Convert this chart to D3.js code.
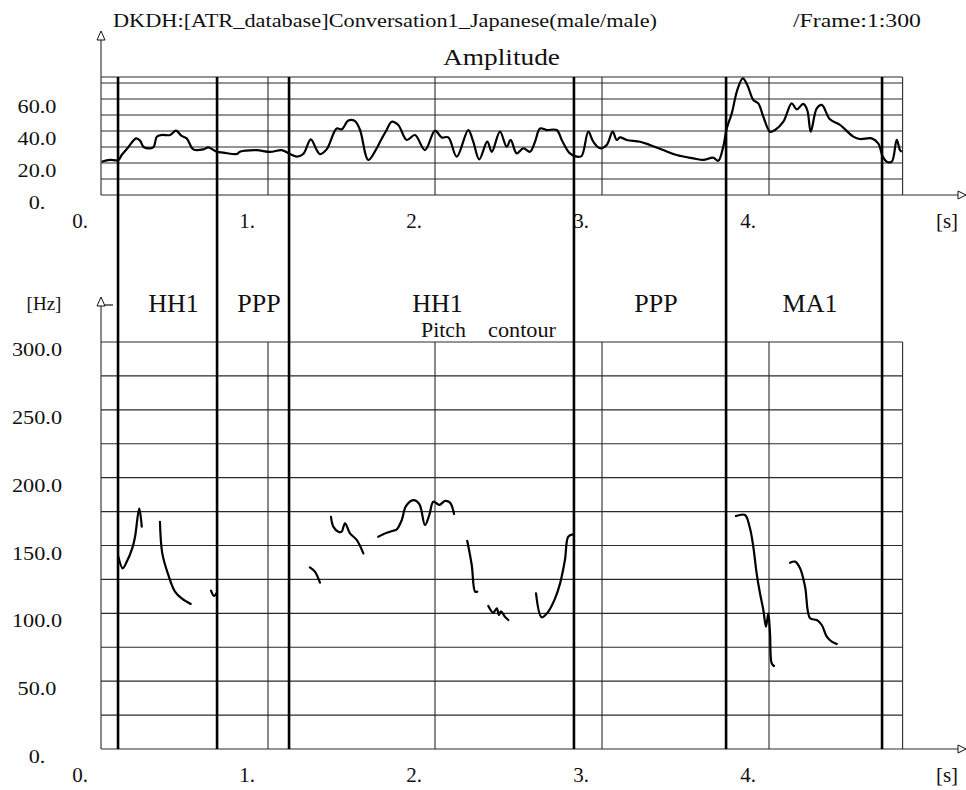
<!DOCTYPE html>
<html>
<head>
<meta charset="utf-8">
<script src="https://cdn.jsdelivr.net/npm/d3@7"></script>
<style>
  body { margin: 0; background: #fff; }
  text { font-family: "Liberation Serif", "Times New Roman", serif; fill: #111; }
</style>
</head>
<body>
<div id="chart"></div>
<script>
/* * * * * * * * * * * * * *
*   amplitude + pitch plot  *
* * * * * * * * * * * * * */

// time axis (seconds)
const timeTicks = [0, 1, 2, 3, 4];
const ampTicks = [0, 20, 40, 60];
const pitchTicks = [0, 50, 100, 150, 200, 250, 300];

// segment boundaries (s) and labels between them
const boundaryTimes = [0.102, 0.695, 1.126, 2.832, 3.743, 4.677];
const segmentLabels = ["HH1", "PPP", "HH1", "PPP", "MA1"];

// amplitude curve
const ampTime = [0.004, 0.054, 0.104, 0.124, 0.163, 0.210, 0.234, 0.257, 0.313, 0.334, 0.363, 0.413, 0.449, 0.483,
    0.513, 0.553, 0.613, 0.643, 0.693, 0.732, 0.813, 0.832, 0.932, 1.012, 1.082, 1.132, 1.172, 1.211, 1.256, 1.292,
    1.311, 1.351, 1.411, 1.441, 1.481, 1.521, 1.551, 1.601, 1.651, 1.671, 1.707, 1.741, 1.780, 1.831, 1.880, 1.940,
    2.000, 2.040, 2.080, 2.130, 2.199, 2.229, 2.265, 2.313, 2.340, 2.389, 2.429, 2.453, 2.489, 2.529, 2.569, 2.599,
    2.629, 2.669, 2.729, 2.759, 2.808, 2.849, 2.878, 2.918, 2.948, 2.988, 3.028, 3.064, 3.088, 3.108, 3.148, 3.228,
    3.287, 3.367, 3.447, 3.547, 3.607, 3.666, 3.696, 3.726, 3.747, 3.777, 3.810, 3.843, 3.870, 3.906, 3.936, 3.966,
    4.006, 4.036, 4.086, 4.136, 4.166, 4.205, 4.229, 4.250, 4.286, 4.316, 4.365, 4.425, 4.505, 4.545, 4.615, 4.654,
    4.681, 4.705, 4.735, 4.765, 4.784, 4.795];
const ampValue = [20.8, 21.9, 21.9, 25, 29.8, 35.4, 34, 29.8, 29.8, 36.4, 37.5, 37.5, 40.2, 36.9,
    35.4, 28.5, 28.5, 29.8, 27, 26.5, 25.6, 27, 28, 26.9, 28, 25.6, 24, 25.6, 34.8, 28,
    25.6, 28.5, 41.6, 41, 46.5, 46.2, 40.6, 21.9, 29.2, 33.3, 40, 45.8, 43.7, 34.4, 37.5, 28.1,
    40.2, 36, 36, 24, 40.6, 33.3, 22.3, 33.3, 27, 39.6, 30.2, 34.4, 26, 29.2, 27, 33.3,
    41.6, 40.6, 40.6, 34.4, 26, 24, 24.4, 39.6, 33.3, 29.2, 31.3, 39.6, 34.4, 36, 34.4, 33.3,
    31.3, 28.1, 25, 22.9, 21.9, 23.3, 21.4, 30.2, 41.6, 51, 65.6, 72.9, 68.8, 59.4, 57.3, 48.9,
    39.6, 40.6, 45.8, 57.3, 53.5, 56.9, 53.1, 39.6, 54.2, 56.3, 47.3, 43.8, 36.5, 35, 35.4, 32.3,
    24, 20.8, 20.8, 34.4, 28.1, 27];

// pitch contour, null = unvoiced gap
const pitchTime = [0.104, 0.130, 0.154, 0.187, 0.204, 0.229, 0.244, 0.25,
    0.353, 0.367, 0.403, 0.443, 0.483, 0.537, 0.54,
    0.659, 0.677, 0.693, 0.70,
    1.251, 1.281, 1.311, 1.32,
    1.377, 1.391, 1.421, 1.441, 1.461, 1.491, 1.531, 1.571, 1.58,
    1.660, 1.711, 1.750, 1.771, 1.801, 1.826, 1.870, 1.906, 1.940, 1.966, 1.990, 2.026, 2.060, 2.090, 2.114, 2.12,
    2.193, 2.220, 2.240, 2.253, 2.26,
    2.319, 2.349, 2.370, 2.383, 2.395, 2.419, 2.439, 2.45,
    2.605, 2.639, 2.678, 2.719, 2.749, 2.778, 2.798, 2.825, 2.83,
    3.802, 3.856, 3.886, 3.906, 3.926, 3.946, 3.966, 3.982, 3.996, 4.006, 4.016, 4.030, 4.04,
    4.126, 4.156, 4.186, 4.216, 4.246, 4.286, 4.316, 4.346, 4.376, 4.406];
const pitchHz = [141.7, 133.2, 138, 147.9, 156.5, 177.4, 163.9, null,
    167.5, 144.2, 128.3, 116, 111, 106.9, null,
    116.7, 112.8, 115.2, null,
    133.9, 130.7, 122.6, null,
    171.2, 163.9, 160.2, 160.2, 166.4, 159, 154.1, 144.2, null,
    156.5, 159.4, 160.9, 161.9, 168.8, 179.1, 183.5, 180.6, 165.1, 172.5, 182.3, 179.9, 182.9, 181.6, 173.2, null,
    153.5, 135.6, 116, 116, null,
    105.4, 100.5, 103.7, 98.8, 101.5, 97.4, 95.1, null,
    114.8, 97.1, 101.2, 111, 122.1, 139.3, 156.5, 158.2, null,
    171.7, 172.5, 162.7, 149.1, 129.5, 114.8, 102.5, 90.2, 100, 85.3, 63.2, 61.2, null,
    137.3, 138.1, 133.2, 119.6, 96.3, 95.1, 91.4, 82.8, 79.1, 77.4];

const width = 966, height = 790;
const svg = d3.select("#chart").append("svg")
    .attr("width", width)
    .attr("height", height);
svg.append("rect").attr("width", width).attr("height", height).attr("fill", "#fff");

// scales
const x = d3.scaleLinear().domain([0, 4.8]).range([101, 902.6]);
const yAmp = d3.scaleLinear().domain([0, 73.75]).range([195, 77]);
const yPitch = d3.scaleLinear().domain([0, 300]).range([749, 342]);

const gridColor = "#2a2a2a";
const tickFmt = v => v === 0 ? "0." : d3.format(".1f")(v);

// stretch text a bit, the plotter font is wider than Times
function stretch(sel, factor) {
    sel.each(function () {
        let len = this.getComputedTextLength();
        d3.select(this).attr("textLength", len * factor).attr("lengthAdjust", "spacingAndGlyphs");
    });
}

function arrowRight(xTip, y) {
    svg.append("path")
        .attr("d", `M${xTip},${y} L${xTip - 8},${y - 4} L${xTip - 8},${y + 4} Z`)
        .attr("fill", "#fff").attr("stroke", "#111").attr("stroke-width", 1);
}
function arrowUp(xc, yTip) {
    svg.append("path")
        .attr("d", `M${xc},${yTip} L${xc - 4},${yTip + 9} L${xc + 4},${yTip + 9} Z`)
        .attr("fill", "#fff").attr("stroke", "#111").attr("stroke-width", 1);
}

function drawPanel(yScale, gridVals, labelVals, topY, arrowTipY) {
    let g = svg.append("g");
    let y0 = yScale(0);

    // horizontal grid
    g.selectAll("line.h").data(gridVals).enter().append("line")
        .attr("x1", x(0)).attr("x2", x(4.8))
        .attr("y1", d => yScale(d)).attr("y2", d => yScale(d))
        .attr("stroke", gridColor).attr("stroke-width", 1.1);

    // vertical grid at whole seconds + right border
    g.selectAll("line.v").data(timeTicks.slice(1).concat([4.8])).enter().append("line")
        .attr("x1", d => x(d)).attr("x2", d => x(d))
        .attr("y1", topY).attr("y2", y0)
        .attr("stroke", gridColor).attr("stroke-width", 1.1);

    // axes
    g.append("line").attr("x1", x(0)).attr("x2", 958).attr("y1", y0).attr("y2", y0)
        .attr("stroke", gridColor).attr("stroke-width", 1.1);
    g.append("line").attr("x1", x(0)).attr("x2", x(0)).attr("y1", y0).attr("y2", arrowTipY + 9)
        .attr("stroke", gridColor).attr("stroke-width", 1.1);
    arrowRight(966, y0);
    arrowUp(x(0), arrowTipY);

    // y tick labels, top aligned to their grid line
    let yl = g.selectAll("text.yl").data(labelVals).enter().append("text")
        .attr("x", 37).attr("y", d => yScale(d) + 14)
        .attr("text-anchor", "middle").attr("font-size", 19)
        .text(tickFmt);
    stretch(yl, 1.17);

    // x tick labels, left of the grid line
    g.selectAll("text.xl").data(timeTicks).enter().append("text")
        .attr("x", d => x(d) - 21).attr("y", y0 + 33)
        .attr("text-anchor", "middle").attr("font-size", 21)
        .text(d => d + ".");
    g.append("text").attr("x", 947).attr("y", y0 + 33)
        .attr("text-anchor", "middle").attr("font-size", 21).text("[s]");
}

drawPanel(yAmp, d3.range(10, 80, 10).concat([73.75]), ampTicks, 77, 31);
drawPanel(yPitch, d3.range(25, 325, 25), pitchTicks, 342, 297);

// small dash next to pitch axis arrow
svg.append("line").attr("x1", 105).attr("x2", 113).attr("y1", 305).attr("y2", 305)
    .attr("stroke", "#111").attr("stroke-width", 1.2);

// segment boundaries through both panels
svg.selectAll("line.bound").data(boundaryTimes).enter().append("line")
    .attr("x1", d => x(d)).attr("x2", d => x(d))
    .attr("y1", 77).attr("y2", 749)
    .attr("stroke", "#000").attr("stroke-width", 2.6);

// segment labels
svg.selectAll("text.seg").data(segmentLabels).enter().append("text")
    .attr("x", (d, i) => (x(boundaryTimes[i]) + x(boundaryTimes[i + 1])) / 2 + 6)
    .attr("y", 312)
    .attr("text-anchor", "middle").attr("font-size", 26)
    .text(d => d);

// amplitude curve
let ampRows = ampTime.map((t, i) => ({t: t, v: ampValue[i]}));
svg.append("path").datum(ampRows)
    .attr("fill", "none").attr("stroke", "#000").attr("stroke-width", 2.2)
    .attr("stroke-linejoin", "round")
    .attr("d", d3.line().x(d => x(d.t)).y(d => yAmp(d.v)).curve(d3.curveCatmullRom.alpha(0.5)));

// pitch contour
let pitchRows = pitchTime.map((t, i) => ({t: t, hz: pitchHz[i]}));
svg.append("path").datum(pitchRows)
    .attr("fill", "none").attr("stroke", "#000").attr("stroke-width", 2.2)
    .attr("stroke-linejoin", "round").attr("stroke-linecap", "round")
    .attr("d", d3.line().defined(d => d.hz != null)
        .x(d => x(d.t)).y(d => yPitch(d.hz)).curve(d3.curveCatmullRom.alpha(0.5)));

// titles
svg.append("text").attr("x", 113).attr("y", 27).attr("font-size", 18)
    .attr("textLength", 544).attr("lengthAdjust", "spacingAndGlyphs")
    .text("DKDH:[ATR_database]Conversation1_Japanese(male/male)");
svg.append("text").attr("x", 793).attr("y", 27).attr("font-size", 18)
    .attr("textLength", 128).attr("lengthAdjust", "spacingAndGlyphs")
    .text("/Frame:1:300");
svg.append("text").attr("x", 443).attr("y", 65).attr("font-size", 23)
    .attr("textLength", 117).attr("lengthAdjust", "spacingAndGlyphs")
    .text("Amplitude");
svg.append("text").attr("x", 421).attr("y", 337).attr("font-size", 20)
    .attr("textLength", 45).attr("lengthAdjust", "spacingAndGlyphs").text("Pitch");
svg.append("text").attr("x", 488).attr("y", 337).attr("font-size", 20)
    .attr("textLength", 68).attr("lengthAdjust", "spacingAndGlyphs").text("contour");
svg.append("text").attr("x", 44).attr("y", 310).attr("font-size", 19)
    .attr("text-anchor", "middle").text("[Hz]");
</script>
</body>
</html>
